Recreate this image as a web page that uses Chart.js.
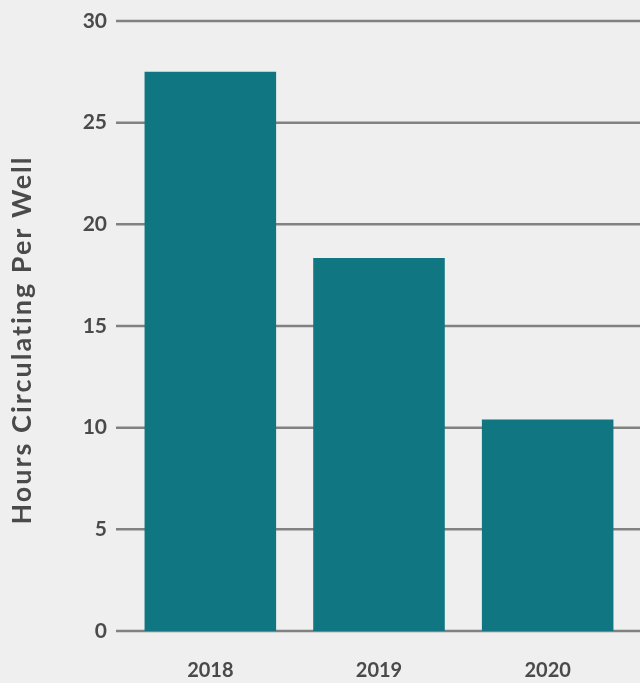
<!DOCTYPE html>
<html>
<head>
<meta charset="utf-8">
<script src="https://cdn.jsdelivr.net/npm/chart.js@4"></script>
<style>
  html, body { margin: 0; padding: 0; background: #efefef; }
  #wrap { width: 640px; height: 683px; }
</style>
</head>
<body>
<div id="wrap"><canvas id="hoursChart"></canvas></div>
<script>
const years = ['2018', '2019', '2020'];
const hoursPerWell = [27.5, 18.35, 10.4];
const yTicks = [0, 5, 10, 15, 20, 25, 30];
const yTitle = 'Hours Circulating Per Well';

// lineas de la cuadricula, un poco mas largas que el area del grafico
const gridLines = {
    id: 'gridLines',
    beforeDatasetsDraw(chart) {
        const c = chart.ctx;
        const y = chart.scales.y;
        c.save();
        c.strokeStyle = '#818181';
        c.lineWidth = 2.5;
        yTicks.forEach(v => {
            const py = y.getPixelForValue(v);
            c.beginPath();
            c.moveTo(116, py);
            c.lineTo(chart.width, py);
            c.stroke();
        });
        c.restore();
    }
};

// titulo del eje y con espaciado entre letras
const axisTitle = {
    id: 'axisTitle',
    afterDraw(chart) {
        const c = chart.ctx;
        c.save();
        c.translate(22, 340);
        c.rotate(-Math.PI / 2);
        c.font = 'bold 27px Lato';
        c.letterSpacing = '2px';
        c.fillStyle = '#4a4a4a';
        c.textAlign = 'center';
        c.textBaseline = 'middle';
        c.fillText(yTitle, 0, 0);
        c.restore();
    }
};

new Chart(document.getElementById('hoursChart').getContext('2d'), {
    type: 'bar',
    data: {
        labels: years,
        datasets: [{
            label: yTitle,
            data: hoursPerWell,
            backgroundColor: '#0f7682',
            categoryPercentage: 1,
            barPercentage: 0.78
        }]
    },
    options: {
        responsive: true,
        maintainAspectRatio: false,
        animation: false,
        layout: { padding: { top: 21, right: 8, bottom: 0, left: 0 } },
        plugins: { legend: { display: false }, tooltip: { enabled: false } },
        scales: {
            x: {
                grid: { display: false, drawTicks: false },
                border: { display: false },
                ticks: { color: '#4a4a4a', padding: 28, font: { family: 'Lato', size: 20, weight: 'bold' } },
                afterFit(s) { s.height = 52; s.paddingLeft = 0; s.paddingRight = 0; }
            },
            y: {
                min: 0,
                max: 30,
                grid: { display: false, drawTicks: false },
                border: { display: false },
                ticks: {
                    stepSize: 5,
                    color: '#4a4a4a',
                    padding: 19,
                    font: { family: 'Lato', size: 21, weight: 'bold' }
                },
                afterFit(s) { s.width = 126; s.paddingTop = 0; s.paddingBottom = 0; }
            }
        }
    },
    plugins: [gridLines, axisTitle]
});
</script>
</body>
</html>
